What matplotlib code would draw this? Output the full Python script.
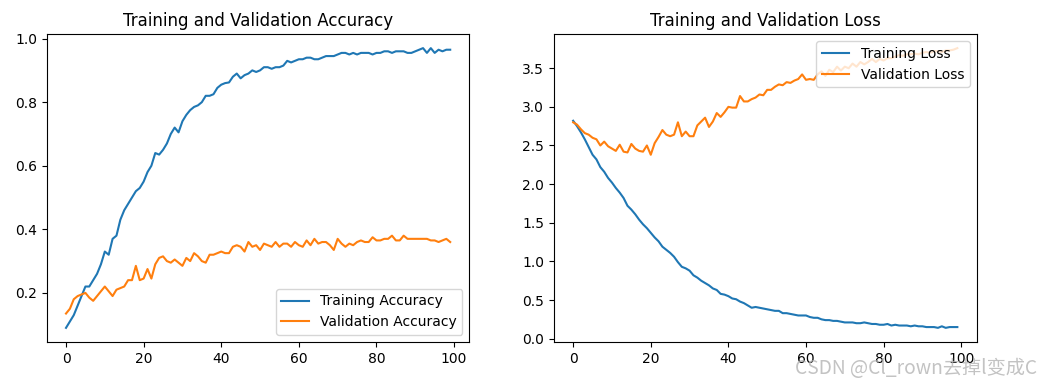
import matplotlib
matplotlib.use("Agg")
import matplotlib.pyplot as plt
import numpy as np

epochs = list(range(100))

train_acc = [0.09, 0.11, 0.13, 0.16, 0.19, 0.22, 0.22, 0.24, 0.26, 0.29,
             0.33, 0.32, 0.37, 0.38, 0.43, 0.46, 0.48, 0.50, 0.52, 0.53,
             0.55, 0.58, 0.60, 0.64, 0.635, 0.65, 0.67, 0.70, 0.72, 0.705,
             0.74, 0.76, 0.775, 0.785, 0.79, 0.80, 0.82, 0.82, 0.825, 0.845,
             0.855, 0.86, 0.862, 0.88, 0.89, 0.875, 0.885, 0.89, 0.90, 0.895,
             0.90, 0.91, 0.91, 0.905, 0.91, 0.91, 0.915, 0.93, 0.925, 0.93,
             0.935, 0.935, 0.94, 0.94, 0.935, 0.935, 0.94, 0.945, 0.945, 0.945,
             0.95, 0.955, 0.955, 0.95, 0.955, 0.95, 0.955, 0.955, 0.955, 0.95,
             0.955, 0.955, 0.96, 0.96, 0.955, 0.96, 0.96, 0.96, 0.955, 0.955,
             0.96, 0.965, 0.97, 0.955, 0.97, 0.955, 0.965, 0.96, 0.965, 0.965]

val_acc = [0.135, 0.15, 0.18, 0.19, 0.195, 0.20, 0.185, 0.175, 0.19, 0.205,
           0.22, 0.205, 0.19, 0.21, 0.215, 0.22, 0.24, 0.24, 0.285, 0.24,
           0.245, 0.275, 0.245, 0.29, 0.31, 0.315, 0.30, 0.295, 0.305, 0.295,
           0.285, 0.31, 0.30, 0.325, 0.315, 0.30, 0.295, 0.32, 0.32, 0.325,
           0.33, 0.325, 0.325, 0.345, 0.35, 0.345, 0.33, 0.36, 0.345, 0.35,
           0.335, 0.355, 0.35, 0.345, 0.36, 0.345, 0.355, 0.355, 0.345, 0.36,
           0.35, 0.345, 0.365, 0.35, 0.37, 0.355, 0.36, 0.36, 0.35, 0.335,
           0.37, 0.355, 0.345, 0.355, 0.35, 0.36, 0.365, 0.36, 0.36, 0.375,
           0.365, 0.365, 0.37, 0.37, 0.38, 0.365, 0.365, 0.38, 0.37, 0.37,
           0.37, 0.37, 0.37, 0.37, 0.365, 0.365, 0.36, 0.365, 0.37, 0.36]

train_loss = [2.82, 2.75, 2.67, 2.58, 2.48, 2.38, 2.32, 2.22, 2.16, 2.08,
              2.02, 1.95, 1.89, 1.82, 1.72, 1.67, 1.61, 1.54, 1.48, 1.43,
              1.37, 1.31, 1.26, 1.19, 1.15, 1.11, 1.06, 0.99, 0.93, 0.91,
              0.88, 0.82, 0.79, 0.75, 0.72, 0.69, 0.65, 0.63, 0.58, 0.57,
              0.55, 0.52, 0.51, 0.48, 0.46, 0.43, 0.40, 0.41, 0.40, 0.39,
              0.38, 0.37, 0.36, 0.36, 0.33, 0.33, 0.32, 0.31, 0.30, 0.30,
              0.30, 0.28, 0.27, 0.27, 0.25, 0.24, 0.24, 0.23, 0.23, 0.22,
              0.21, 0.21, 0.21, 0.20, 0.20, 0.21, 0.20, 0.19, 0.19, 0.18,
              0.18, 0.19, 0.17, 0.18, 0.17, 0.17, 0.17, 0.16, 0.17, 0.16,
              0.16, 0.15, 0.15, 0.15, 0.14, 0.16, 0.14, 0.15, 0.15, 0.15]

val_loss = [2.80, 2.77, 2.71, 2.66, 2.64, 2.60, 2.58, 2.50, 2.55, 2.49,
            2.46, 2.43, 2.51, 2.42, 2.41, 2.52, 2.46, 2.43, 2.42, 2.50,
            2.38, 2.53, 2.61, 2.70, 2.64, 2.62, 2.64, 2.80, 2.62, 2.68,
            2.62, 2.62, 2.76, 2.81, 2.86, 2.74, 2.81, 2.92, 2.87, 2.93,
            3.00, 2.99, 2.99, 3.14, 3.07, 3.07, 3.10, 3.12, 3.16, 3.15,
            3.22, 3.22, 3.26, 3.29, 3.28, 3.32, 3.31, 3.34, 3.36, 3.42,
            3.35, 3.36, 3.35, 3.42, 3.46, 3.40, 3.48, 3.45, 3.52, 3.47,
            3.52, 3.50, 3.56, 3.52, 3.58, 3.55, 3.58, 3.62, 3.58, 3.62,
            3.60, 3.63, 3.63, 3.65, 3.67, 3.66, 3.68, 3.68, 3.69, 3.68,
            3.70, 3.71, 3.70, 3.72, 3.72, 3.71, 3.73, 3.73, 3.74, 3.76]

watermark = "CSDN @Cl_rown去掉l变成C"

fig = plt.figure(figsize=(10.4, 3.88), dpi=100)
fig.subplots_adjust(left=0.045, right=0.939, bottom=0.119, top=0.912, wspace=0.2)

ax1 = fig.add_subplot(1, 2, 1)
ax1.plot(epochs, train_acc, label='Training Accuracy')
ax1.plot(epochs, val_acc, label='Validation Accuracy')
ax1.legend(loc='lower right')
ax1.set_title('Training and Validation Accuracy')

ax2 = fig.add_subplot(1, 2, 2)
ax2.plot(epochs, train_loss, label='Training Loss')
ax2.plot(epochs, val_loss, label='Validation Loss')
ax2.legend(loc='upper right')
ax2.set_title('Training and Validation Loss')

fig.text(0.997, 0.022, watermark, ha='right', va='bottom', fontsize=13.8,
         color='#b4b4b4', alpha=0.8,
         family=['Noto Sans CJK SC', 'DejaVu Sans'])

fig.savefig('out.png', dpi=100)
